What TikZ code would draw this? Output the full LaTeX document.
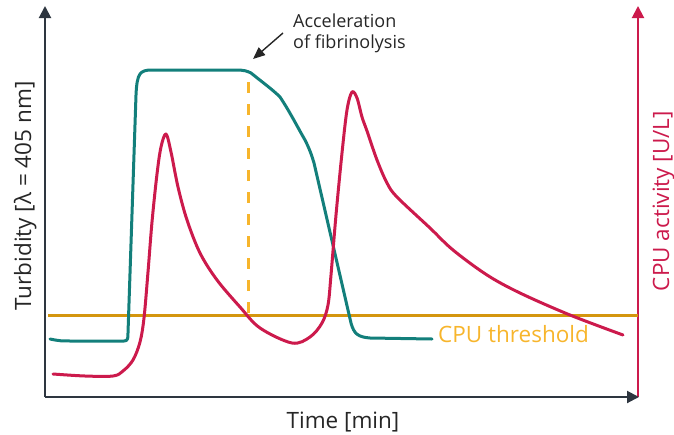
\documentclass[tikz,border=0pt]{standalone}
\usepackage{fontspec}
\setmainfont{Open Sans}
\usetikzlibrary{arrows.meta}
\definecolor{axisgray}{HTML}{2E3640}
\definecolor{turbteal}{HTML}{137F7B}
\definecolor{cpured}{HTML}{CC1A4C}
\definecolor{thrgold}{HTML}{D4960E}
\definecolor{cpuorange}{HTML}{F7B52C}
\definecolor{inkdark}{HTML}{262626}
\tikzset{
  axisline/.style={line width=2pt, draw=axisgray, -{Triangle[length=12pt,width=12pt]}},
  curve/.style={line width=3pt, line join=round, line cap=round},
  axislabel/.style={font=\fontsize{22.5}{26}\selectfont, text=inkdark, inner sep=0pt},
}
\begin{document}
\begin{tikzpicture}[x=1pt,y=-1pt]
\useasboundingbox (0,0) rectangle (674,434);

% axes
\coordinate (origin) at (45,397);
\coordinate (ytop) at (45,6);
\coordinate (xend) at (639,397);
\coordinate (y2base) at (638,397);
\coordinate (y2top) at (638,6);
\draw[line width=2pt, draw=cpured, -{Triangle[length=12pt,width=12pt]}] (y2base) -- (y2top);
\draw[axisline] (origin) -- (ytop);
\draw[axisline] (origin) -- (xend);

% threshold line
\coordinate (thrL) at (48,315);
\coordinate (thrR) at (638,315);
\draw[line width=3pt, draw=thrgold] (thrL) -- (thrR);

% onset of fibrinolysis
\coordinate (dashTop) at (248,82);
\coordinate (dashBot) at (248,315);
\draw[line width=3pt, draw=cpuorange, dash pattern=on 11pt off 11pt] (dashTop) -- (dashBot);

% turbidity curve
\draw[curve, turbteal] (50,339) .. controls (60,341) .. (75,341) -- (124,341)
  .. controls (128,341) and (128,338) .. (128,333) -- (136,95)
  .. controls (137,73) and (140,70) .. (152,70) -- (236,70)
  .. controls (244,70) and (247,71) .. (251,73)
  .. controls (262,82) and (272,89) .. (280,97)
  .. controls (290,112) and (298,128) .. (305,140)
  .. controls (309,148) and (311,153) .. (314,163)
  -- (351,323) .. controls (354,334) and (358,337) .. (370,338) -- (432,339);

% CPU activity curve
\draw[curve, cpured] plot[smooth, tension=0.55] coordinates {
  (53,374) (85,376) (113,376) (123,371) (133,360) (140,342) (144,318)
  (148,272) (152,222) (157,174) (161,147) (166,134) (171,152) (178,187)
  (187,220) (200,253) (217,280) (240,307) (260,328) (292,343) (310,337)
  (322,323) (328,305) (331,275) (336,215) (342,153) (347,110) (352,92)
  (357,98) (362,117) (367,131) (377,160) (387,183) (397,197) (430,228)
  (453,250) (487,275) (520,293) (570,315) (623,335)};

% labels
\node[axislabel, anchor=base] (xlab) at (343,428) {Time [min]};
\node[axislabel, rotate=90, anchor=base] (ylab) at (31,196) {Turbidity [λ = 405 nm]};
\node[axislabel, rotate=90, anchor=base, text=cpured] (y2lab) at (669,201) {CPU activity [U/L]};
\node[axislabel, anchor=base west, text=cpuorange] (thrlab) at (438,342) {CPU threshold};
\node[font=\fontsize{18}{21}\selectfont, text=inkdark, align=left, anchor=west, inner sep=0pt] (acc) at (293,33) {Acceleration\\of fibrinolysis};
\coordinate (accTip) at (253,59);
\draw[line width=1.4pt, draw=inkdark, -{Triangle[length=12pt,width=10pt]}] ([xshift=-10pt]acc.west) -- (accTip);
\end{tikzpicture}
\end{document}
